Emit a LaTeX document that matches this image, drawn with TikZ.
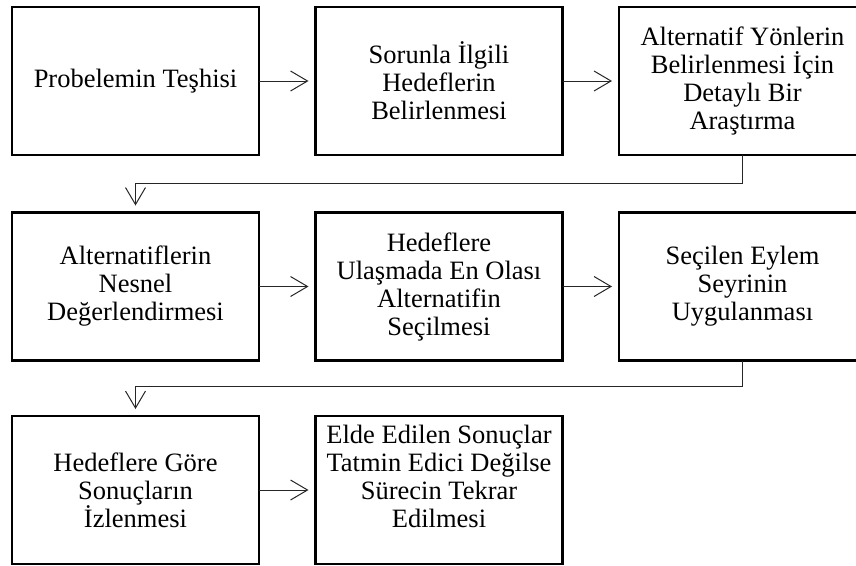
\documentclass[tikz,border=0pt]{standalone}
\usepackage{fontspec}
\setmainfont{Liberation Serif}
\usetikzlibrary{arrows.meta}

\tikzset{
  stepbox/.style={draw=black, line width=2.7pt, fill=white,
    minimum width=247pt, minimum height=148pt, inner sep=0pt, outer sep=0pt,
    align=center, text=black, font=\fontsize{26.5}{28}\selectfont},
  flow/.style={draw=black!85, line width=1pt,
    -{Straight Barb[length=17pt,width=20pt,line width=1pt]}, shorten >=7pt},
}

\begin{document}
\begin{tikzpicture}[x=1pt,y=1pt]
  \useasboundingbox (0,0) rectangle (856,-565);
  \clip (0,0) rectangle (856,-565);

  % first row
  \node[stepbox] (b1) at (135.5,-81) {Probelemin Teşhisi};
  \node[stepbox] (b2) at (439,-81) {Sorunla İlgili\\Hedeflerin\\Belirlenmesi};
  \node[stepbox] (b3) at (742.5,-81) {Alternatif Yönlerin\\Belirlenmesi İçin\\Detaylı Bir\\Araştırma};

  % second row
  \node[stepbox] (b4) at (135.5,-286.5) {Alternatiflerin\\Nesnel\\Değerlendirmesi};
  \node[stepbox] (b5) at (439,-286.5) {Hedeflere\\Ulaşmada En Olası\\Alternatifin\\Seçilmesi};
  \node[stepbox] (b6) at (742.5,-286.5) {Seçilen Eylem\\Seyrinin\\Uygulanması};

  % third row
  \node[stepbox] (b7) at (135.5,-490) {Hedeflere Göre\\Sonuçların\\İzlenmesi};
  \node[stepbox] (b8) at (439,-490) {Elde Edilen Sonuçlar\\Tatmin Edici Değilse\\Sürecin Tekrar\\Edilmesi\\\mbox{}};

  % connectors
  \draw[flow] (b1.east) -- (b2.west);
  \draw[flow] (b2.east) -- (b3.west);
  \draw[flow] (b3.south) -- ++(0,-28) -| (b4.north);
  \draw[flow] (b4.east) -- (b5.west);
  \draw[flow] (b5.east) -- (b6.west);
  \draw[flow] (b6.south) -- ++(0,-26) -| (b7.north);
  \draw[flow] (b7.east) -- (b8.west);
\end{tikzpicture}
\end{document}
